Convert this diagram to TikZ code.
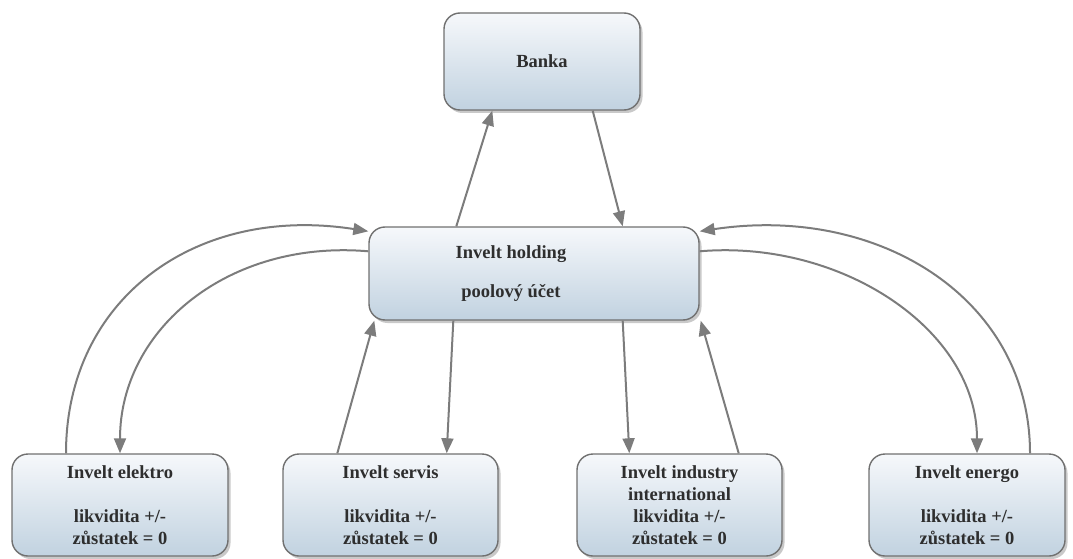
\documentclass[tikz,border=0pt]{standalone}
\usepackage{fontspec}
\setmainfont{Liberation Serif}
\usetikzlibrary{arrows.meta,shadows}
\definecolor{boxtop}{HTML}{F6F8FB}
\definecolor{boxbot}{HTML}{C1D2E0}
\definecolor{boxline}{HTML}{707070}
\definecolor{txt}{HTML}{2E2E2E}
\definecolor{link}{HTML}{7C7C7C}
\tikzset{
  entity/.style={rounded corners=16pt, draw=boxline, line width=1.4pt,
    top color=boxtop, bottom color=boxbot, align=center,
    font=\bfseries\fontsize{18.5}{22}\selectfont, text=txt,
    drop shadow={shadow xshift=2.5pt, shadow yshift=-3pt, opacity=0.3, fill=black!70},
    inner sep=0pt},
  caption/.style={align=center, font=\bfseries\fontsize{18.5}{22}\selectfont, text=txt},
  flow/.style={draw=link, line width=2pt,
    -{Triangle[length=15pt,width=12pt]}}
}
\begin{document}
\begin{tikzpicture}[x=1pt,y=-1pt]
\useasboundingbox (0,0) rectangle (1073,559);

% accounts
\node[entity, minimum width=196pt, minimum height=97pt] (bank) at (542,61.5) {Banka};
\node[entity, minimum width=330pt, minimum height=93pt] (hold) at (534,273.5) {};
\node[caption] (holdtext) at ([xshift=-23pt]hold.center) {Invelt holding\\[17pt]poolový účet};
\node[entity, minimum width=216pt, minimum height=102pt] (el) at (120,505)
  {Invelt elektro\\[22pt]likvidita +/-\\zůstatek = 0};
\node[entity, minimum width=215pt, minimum height=102pt] (sv) at (390.5,505)
  {Invelt servis\\[22pt]likvidita +/-\\zůstatek = 0};
\node[entity, minimum width=205pt, minimum height=102pt] (in) at (679.5,505)
  {Invelt industry\\international\\likvidita +/-\\zůstatek = 0};
\node[entity, minimum width=196pt, minimum height=102pt] (en) at (967,505)
  {Invelt energo\\[22pt]likvidita +/-\\zůstatek = 0};

% holding <-> bank
\draw[flow] ([xshift=88pt]hold.north west) -- ([xshift=49pt]bank.south west);
\draw[flow] ([xshift=-48pt]bank.south east) -- ([xshift=-77pt]hold.north east);

% holding <-> servis, industry
\draw[flow] ([xshift=55pt]sv.north west) -- ([xshift=6pt]hold.south west);
\draw[flow] ([xshift=85pt]hold.south west) -- ([xshift=-52pt]sv.north east);
\draw[flow] ([xshift=-77pt]hold.south east) -- ([xshift=53pt]in.north west);
\draw[flow] ([xshift=-44pt]in.north east) -- ([xshift=1pt]hold.south east);

% holding <-> elektro, energo (arcs)
\draw[flow] ([xshift=-54pt]el.north) .. controls +(0,-154) and +(-173,-27) .. ([yshift=-5pt]hold.north west);
\draw[flow] ([yshift=-25pt]hold.north west) .. controls +(-140,-12) and +(0,-124) .. (el.north);
\draw[flow] ([xshift=63pt]en.north) .. controls +(0,-154) and +(180,-27) .. ([yshift=-5pt]hold.north east);
\draw[flow] ([yshift=-25pt]hold.north east) .. controls +(141,-12) and +(0,-124) .. ([xshift=10pt]en.north);
\end{tikzpicture}
\end{document}
